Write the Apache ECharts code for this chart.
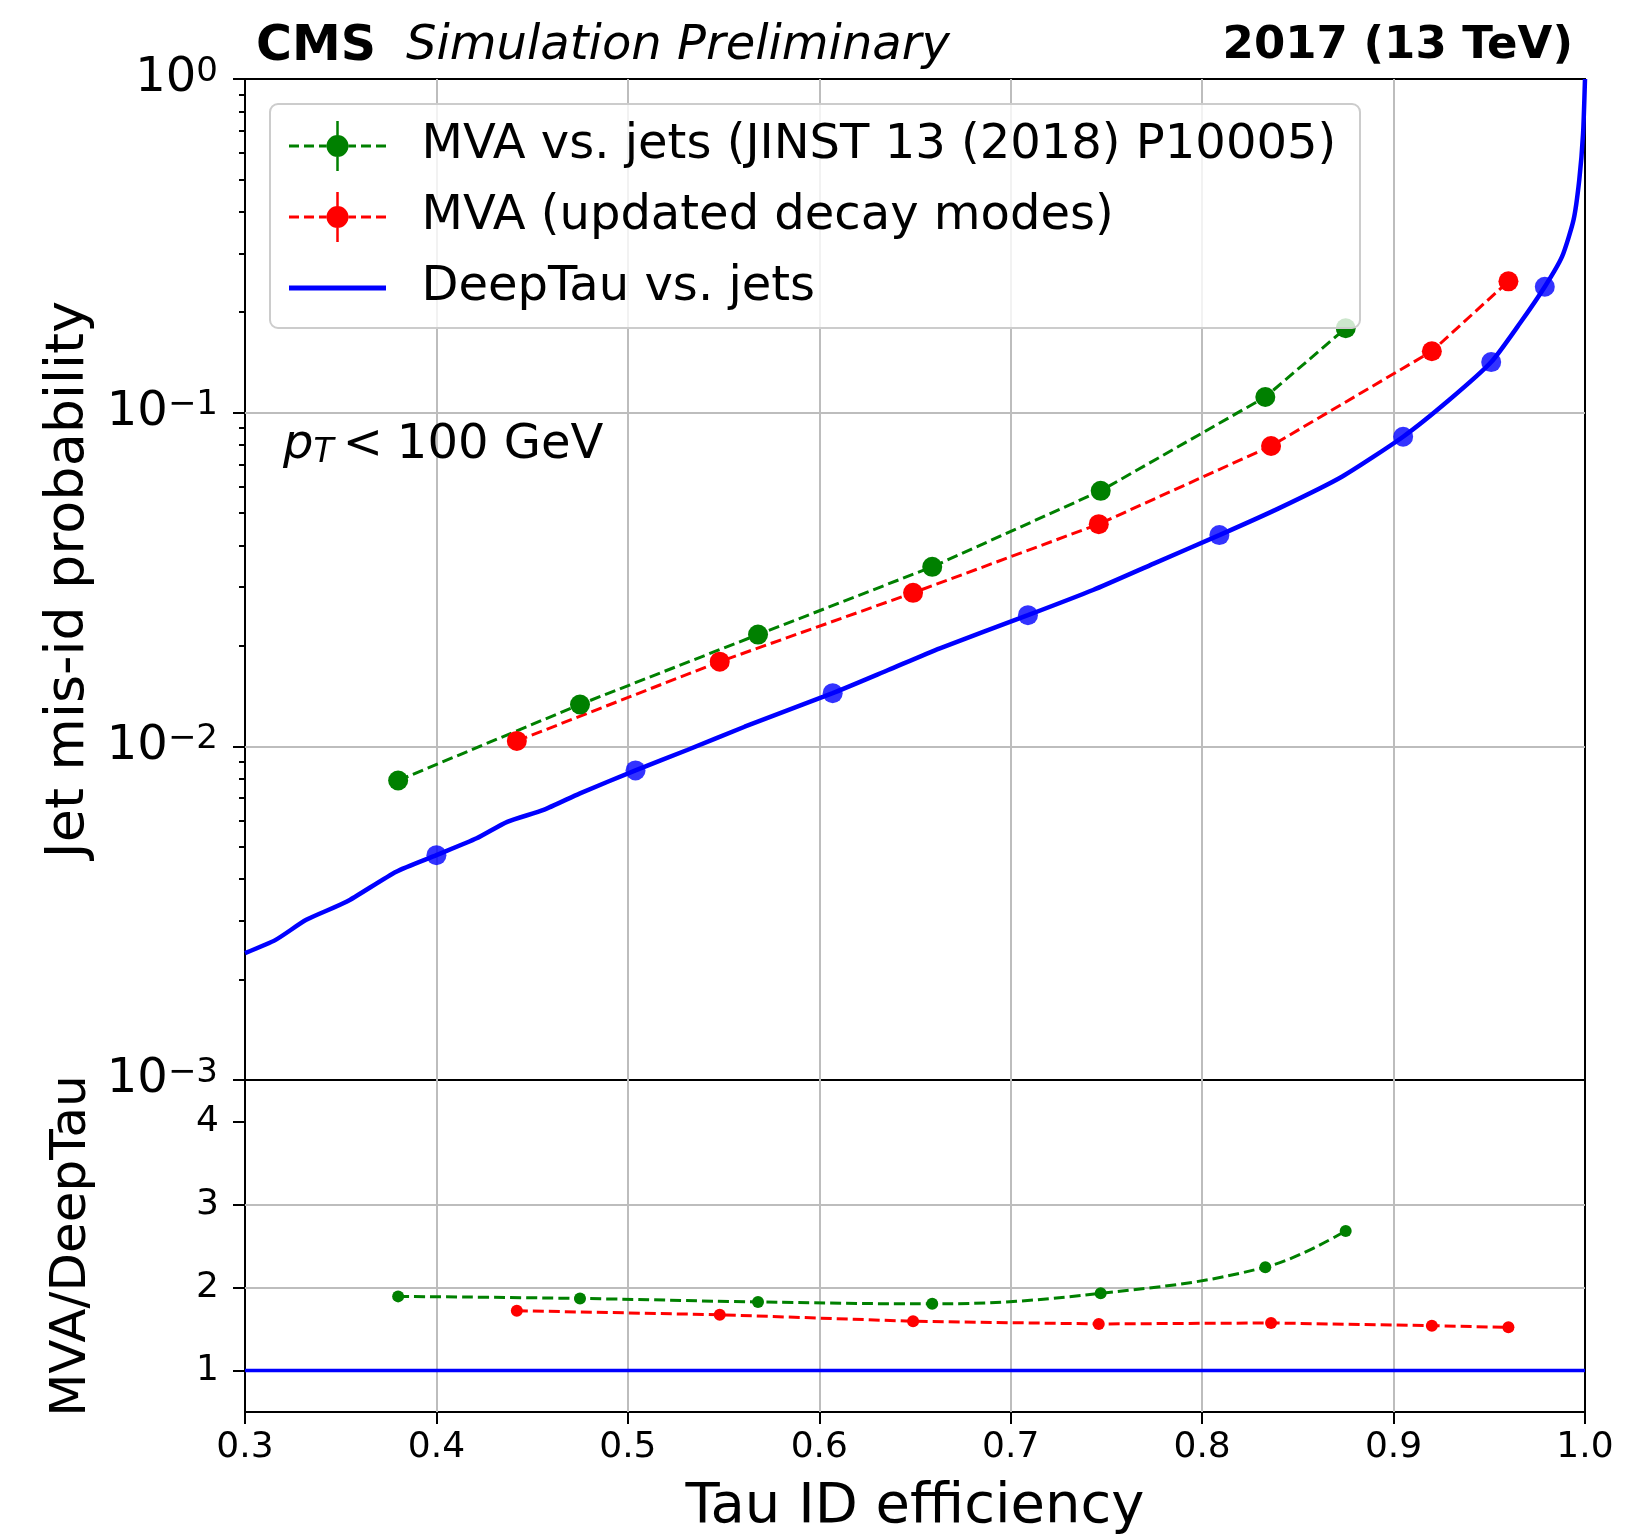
<!DOCTYPE html>
<html>
<head>
<meta charset="utf-8">
<script src="https://cdn.jsdelivr.net/npm/echarts@6/dist/echarts.min.js"></script>
<style>
  html, body { margin: 0; padding: 0; background: #ffffff; }
  #chart { width: 1634px; height: 1536px; }
</style>
</head>
<body>
<div id="chart"></div>
<script>
// ---- MVA vs. jets (JINST 13 (2018) P10005): working points ----
const mvaEff   = [0.380, 0.475, 0.568, 0.659, 0.747, 0.833, 0.875];
const mvaFake  = [0.00790, 0.01335, 0.02162, 0.03451, 0.05831, 0.1114, 0.1791];
const mvaRatio = [1.893, 1.868, 1.826, 1.803, 1.930, 2.245, 2.682];

// ---- MVA with updated decay modes: working points ----
const mvaNewEff   = [0.442, 0.548, 0.649, 0.746, 0.836, 0.920, 0.960];
const mvaNewFake  = [0.01038, 0.01794, 0.02884, 0.04634, 0.07946, 0.1528, 0.2475];
const mvaNewRatio = [1.720, 1.672, 1.593, 1.561, 1.573, 1.540, 1.520];

// ---- DeepTau vs. jets: ROC curve ----
const deepEff  = [0.300, 0.316, 0.332, 0.353, 0.379, 0.400, 0.421, 0.437, 0.456, 0.475,
                  0.504, 0.531, 0.561, 0.607, 0.636, 0.663, 0.709, 0.743, 0.775, 0.809,
                  0.840, 0.873, 0.905, 0.929, 0.951, 0.966, 0.979, 0.988, 0.994, 0.997,
                  0.999, 1.000];
const deepFake = [0.00240, 0.00263, 0.00302, 0.00342, 0.00421, 0.00472, 0.00530, 0.00594, 0.00645, 0.00723,
                  0.00847, 0.00975, 0.01145, 0.01443, 0.01693, 0.01967, 0.02472, 0.02941, 0.03536, 0.04296,
                  0.05167, 0.06428, 0.0847, 0.1091, 0.1418, 0.1853, 0.2385, 0.2934, 0.3778, 0.4982,
                  0.6875, 1.0];
// DeepTau working points
const deepWpEff  = [0.400, 0.504, 0.607, 0.709, 0.809, 0.905, 0.951, 0.979];
const deepWpFake = [0.00472, 0.00847, 0.01443, 0.02472, 0.04296, 0.0847, 0.1418, 0.2385];
// DeepTau reference in the ratio panel
const deepRatioEff = [0.3, 1.0];
const deepRatio    = [1, 1];

// ---- axis ticks ----
const logMinorTicks = [0.002, 0.003, 0.004, 0.005, 0.006, 0.007, 0.008, 0.009,
                       0.02, 0.03, 0.04, 0.05, 0.06, 0.07, 0.08, 0.09,
                       0.2, 0.3, 0.4, 0.5, 0.6, 0.7, 0.8, 0.9];
const ratioTicks = [1, 2, 3, 4];

const seriesNames = ['MVA vs. jets (JINST 13 (2018) P10005)', 'MVA (updated decay modes)', 'DeepTau vs. jets'];

const FONT = 'DejaVu Sans';
const GREEN = '#008000', RED = '#ff0000', BLUE = '#0000ff';
const GRID_COLOR = '#bdbdbd';

const zip = (xs, ys) => xs.map((x, i) => [x, ys[i]]);

// legend glyphs: dashed line + marker + vertical error bar, and a plain solid line
const markerIcon = 'path://' +
  'M0,23.5L10,23.5L10,26.5L0,26.5Z' +
  'M15,23.5L25,23.5L25,26.5L15,26.5Z' +
  'M30,23.5L37.4,23.5L37.4,26.5L30,26.5Z' +
  'M59.6,23.5L67,23.5L67,26.5L59.6,26.5Z' +
  'M72,23.5L82,23.5L82,26.5L72,26.5Z' +
  'M87,23.5L97,23.5L97,26.5L87,26.5Z' +
  'M47.25,0L49.75,0L49.75,14.2L47.25,14.2Z' +
  'M47.25,35.8L49.75,35.8L49.75,50L47.25,50Z' +
  'M37.5,25A11,11,0,1,1,59.5,25A11,11,0,1,1,37.5,25Z';
const lineIcon = 'path://' +
  'M0,22.6L97,22.6L97,27.4L0,27.4Z' +
  'M0,0L0.01,0L0,0.01Z' +
  'M97,50L96.99,50L97,49.99Z';

const logLabel = v => {
  const e = Math.round(Math.log10(v));
  return '{m|10}{s|' + (e < 0 ? '\u2212' + (-e) : String(e)) + '}';
};

const chart = echarts.init(document.getElementById('chart'), null, { renderer: 'canvas' });

const txt = (extra) => Object.assign({ fontFamily: FONT, fontWeight: 'normal', fontStyle: 'normal', color: '#000' }, extra);

const option = {
  animation: false,
  backgroundColor: '#ffffff',
  textStyle: { fontFamily: FONT },
  title: [
    {
      text: '{b|CMS}{i|Simulation Preliminary}',
      left: 256, top: 23, padding: 0,
      textStyle: {
        fontWeight: 'normal',
        rich: {
          b: txt({ fontWeight: 'bold', fontSize: 49, lineHeight: 48 }),
          i: txt({ fontStyle: 'italic', fontSize: 48, lineHeight: 48, padding: [0, 0, 0, 30] })
        }
      }
    },
    {
      text: '2017 (13 TeV)',
      right: 61, top: 24, padding: 0,
      textStyle: txt({ fontWeight: 'bold', fontSize: 45, lineHeight: 45 })
    },
    {
      text: '{p|p}{t|T}{n|<}{g|100 GeV}',
      left: 283, top: 422, padding: 0,
      textStyle: {
        fontWeight: 'normal',
        rich: {
          p: txt({ fontStyle: 'italic', fontSize: 48, lineHeight: 48 }),
          t: txt({ fontStyle: 'italic', fontSize: 33, lineHeight: 20, verticalAlign: 'bottom', padding: [0, 4, 0, 0] }),
          n: txt({ fontSize: 48, lineHeight: 48, padding: [0, 0, 0, 5] }),
          g: txt({ fontSize: 48, lineHeight: 48, padding: [0, 0, 0, 14] })
        }
      }
    }
  ],
  legend: {
    orient: 'vertical',
    left: 289, top: 121,
    padding: 0,
    itemWidth: 158, itemHeight: 50, itemGap: 21,
    symbolKeepAspect: true,
    z: 6,
    selectedMode: false,
    itemStyle: { borderWidth: 0 },
    textStyle: txt({ fontSize: 48, lineHeight: 50 }),
    data: [
      { name: seriesNames[0], icon: markerIcon },
      { name: seriesNames[1], icon: markerIcon },
      { name: seriesNames[2], icon: lineIcon }
    ]
  },
  graphic: {
    elements: [{
      type: 'rect', z: 5,
      shape: { x: 270, y: 104, width: 1090, height: 224, r: 8 },
      style: { fill: 'rgba(255,255,255,0.8)', stroke: '#cccccc', lineWidth: 2 }
    }]
  },
  grid: [
    { left: 245, top: 79, width: 1340, height: 1001, show: true, borderColor: '#000', borderWidth: 2, backgroundColor: 'transparent' },
    { left: 245, top: 1080, width: 1340, height: 335, show: true, borderColor: '#000', borderWidth: 2, backgroundColor: 'transparent' }
  ],
  xAxis: [
    {
      type: 'value', gridIndex: 0, min: 0.3, max: 1.0, interval: 0.1,
      axisLine: { show: false }, axisTick: { show: false }, axisLabel: { show: false },
      splitLine: { show: true, showMinLine: false, showMaxLine: false, lineStyle: { color: GRID_COLOR, width: 2 } }
    },
    {
      type: 'value', gridIndex: 1, min: 0.3, max: 1.0, interval: 0.1,
      axisLine: { show: false },
      axisTick: { show: true, length: 12, lineStyle: { color: '#000', width: 2 } },
      axisLabel: { show: true, margin: 18, fontFamily: FONT, fontSize: 36, color: '#000', formatter: v => v.toFixed(1) },
      splitLine: { show: true, showMinLine: false, showMaxLine: false, lineStyle: { color: GRID_COLOR, width: 2 } },
      name: 'Tau ID efficiency', nameLocation: 'middle', nameGap: 67,
      nameTextStyle: txt({ fontSize: 56 })
    }
  ],
  yAxis: [
    {
      type: 'log', logBase: 10, gridIndex: 0, min: 0.001, max: 1, splitNumber: 3, position: 'left',
      axisLine: { show: false },
      axisTick: { show: true, length: 12, lineStyle: { color: '#000', width: 2 } },
      axisLabel: {
        show: true, margin: 27, formatter: logLabel,
        rich: {
          m: txt({ fontSize: 48, lineHeight: 48 }),
          s: txt({ fontSize: 34, lineHeight: 24, verticalAlign: 'top' })
        }
      },
      splitLine: { show: true, showMinLine: false, showMaxLine: false, lineStyle: { color: GRID_COLOR, width: 2 } },
      name: 'Jet mis-id probability', nameLocation: 'middle', nameGap: 148,
      nameTextStyle: txt({ fontSize: 54 })
    },
    {
      type: 'log', logBase: 10, gridIndex: 0, min: 0.001, max: 1, position: 'left', offset: 0,
      axisLine: { show: false },
      axisTick: { show: true, length: 6, customValues: logMinorTicks, lineStyle: { color: '#000', width: 2 } },
      axisLabel: { show: false },
      splitLine: { show: false }
    },
    {
      type: 'value', gridIndex: 1, min: 0.5, max: 4.5, splitNumber: 4, position: 'left',
      axisLine: { show: false },
      axisTick: { show: true, length: 12, customValues: ratioTicks, lineStyle: { color: '#000', width: 2 } },
      axisLabel: { show: true, margin: 26, customValues: ratioTicks, fontFamily: FONT, fontSize: 36, color: '#000' },
      splitLine: { show: true, showMinLine: false, showMaxLine: false, lineStyle: { color: GRID_COLOR, width: 2 } },
      name: 'MVA/DeepTau', nameLocation: 'middle', nameGap: 148,
      nameTextStyle: txt({ fontSize: 50 })
    }
  ],
  series: [
    {
      name: seriesNames[0], type: 'line', xAxisIndex: 0, yAxisIndex: 0,
      data: zip(mvaEff, mvaFake),
      symbol: 'circle', symbolSize: 20, showAllSymbol: true,
      itemStyle: { color: GREEN },
      lineStyle: { color: GREEN, width: 3, type: [11, 5] }
    },
    {
      name: seriesNames[1], type: 'line', xAxisIndex: 0, yAxisIndex: 0,
      data: zip(mvaNewEff, mvaNewFake),
      symbol: 'circle', symbolSize: 20, showAllSymbol: true,
      itemStyle: { color: RED },
      lineStyle: { color: RED, width: 3, type: [11, 5] }
    },
    {
      name: seriesNames[2], type: 'line', xAxisIndex: 0, yAxisIndex: 0,
      data: zip(deepEff, deepFake),
      symbol: 'none', smooth: 0.2,
      itemStyle: { color: BLUE },
      lineStyle: { color: BLUE, width: 4.5 }
    },
    {
      name: seriesNames[2], type: 'scatter', xAxisIndex: 0, yAxisIndex: 0,
      data: zip(deepWpEff, deepWpFake),
      symbol: 'circle', symbolSize: 20,
      itemStyle: { color: BLUE }
    },
    {
      name: seriesNames[0], type: 'line', xAxisIndex: 1, yAxisIndex: 2,
      data: zip(mvaEff, mvaRatio),
      symbol: 'circle', symbolSize: 12, smooth: 0.4,
      itemStyle: { color: GREEN },
      lineStyle: { color: GREEN, width: 3, type: [11, 5] }
    },
    {
      name: seriesNames[1], type: 'line', xAxisIndex: 1, yAxisIndex: 2,
      data: zip(mvaNewEff, mvaNewRatio),
      symbol: 'circle', symbolSize: 12,
      itemStyle: { color: RED },
      lineStyle: { color: RED, width: 3, type: [11, 5] }
    },
    {
      name: seriesNames[2], type: 'line', xAxisIndex: 1, yAxisIndex: 2,
      data: zip(deepRatioEff, deepRatio),
      symbol: 'none',
      itemStyle: { color: BLUE },
      lineStyle: { color: BLUE, width: 3.5 }
    }
  ]
};

chart.setOption(option);
</script>
</body>
</html>
